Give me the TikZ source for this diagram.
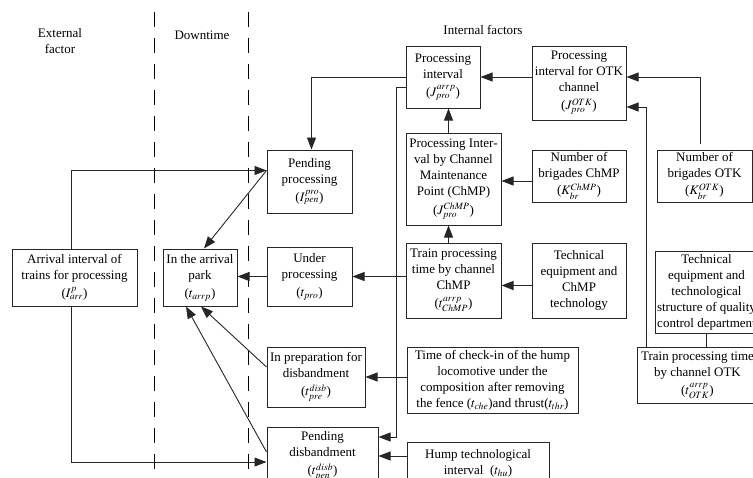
\documentclass[tikz,border=0pt]{standalone}
\usepackage{mathptmx}
\usepackage{fontspec}
\setmainfont{Liberation Serif}
\usetikzlibrary{arrows.meta}
\tikzset{
  factorbox/.style={draw=black!85,line width=1pt,align=center,inner sep=1pt,
    font=\fontsize{13}{16}\selectfont},
  flowarrow/.style={-{Triangle[length=12pt,width=9pt]},line width=0.9pt,draw=black!85},
  flowline/.style={line width=0.9pt,draw=black!85},
  zoneline/.style={line width=0.9pt,dash pattern=on 15pt off 11pt},
  zonelabel/.style={align=center,font=\fontsize{13}{16}\selectfont},
  every picture/.style={line join=miter}
}

\begin{document}
\begin{tikzpicture}[x=1pt,y=-1pt]
  \useasboundingbox (0,0) rectangle (753,477);
  % zones
  \draw[zoneline] (154,12)--(154,477);
  \draw[zoneline] (248,12)--(248,477);
  \node[zonelabel] (extlbl) at (60,41) {External\\factor};
  \node[zonelabel] (downlbl) at (202,35) {Downtime};
  \node[zonelabel] (intlbl) at (483,30) {Internal factors};
  % internal factors
  \node[factorbox,minimum width=74pt,minimum height=62pt] (pint) at (443,77)
    {Processing\\interval\\[2pt]($J^{arrp}_{pro}$)};
  \node[factorbox,minimum width=94pt,minimum height=74pt] (potk) at (579,83)
    {Processing\\interval for OTK\\channel\\[2pt]($J^{OTK}_{pro}$)};
  \node[factorbox,minimum width=95pt,minimum height=92pt] (pchmp) at (453.5,179)
    {Processing Inter-\\val by Channel\\Maintenance\\Point (ChMP)\\[3pt]($J^{ChMP}_{pro}$)};
  \node[factorbox,minimum width=94pt,minimum height=52pt] (nchmp) at (579,176)
    {Number of\\brigades ChMP\\[1pt]($K^{ChMP}_{br}$)};
  \node[factorbox,minimum width=95pt,minimum height=52pt] (notk) at (704.5,176)
    {Number of\\brigades OTK\\[1pt]($K^{OTK}_{br}$)};
  \node[factorbox,minimum width=95pt,minimum height=75pt] (tchmp) at (453.5,280.5)
    {Train processing\\time by channel\\ChMP\\[2pt]($t^{arrp}_{ChMP}$)};
  \node[factorbox,minimum width=94pt,minimum height=75pt] (techchmp) at (579,280.5)
    {Technical\\equipment and\\ChMP\\technology};
  \node[factorbox,minimum width=103pt,minimum height=82pt] (qcd) at (706.5,292)
    {Technical\\equipment and\\technological\\structure of quality\\control department};
  \node[factorbox,minimum width=121pt,minimum height=56pt] (totk) at (697.5,375)
    {Train processing time\\by channel OTK\\[2pt]($t^{arrp}_{OTK}$)};
  \node[factorbox,minimum width=171pt,minimum height=66pt] (check) at (492.5,380)
    {Time of check-in of the hump\\locomotive under the\\composition after removing\\the fence ($t_{che}$)and thrust($t_{thr}$)};
  \node[factorbox,minimum width=142pt,minimum height=42pt] (hump) at (478,463)
    {Hump technological\\interval \ ($t_{hu}$)};
  % downtime states
  \node[factorbox,minimum width=85pt,minimum height=63pt] (ppen) at (309.5,181.5)
    {Pending\\processing\\[2pt]($I^{pro}_{pen}$)};
  \node[factorbox,minimum width=85pt,minimum height=59pt] (under) at (309.5,276.5)
    {Under\\processing\\[2pt]($t_{pro}$)};
  \node[factorbox,minimum width=98pt,minimum height=60pt] (prep) at (316,377)
    {In preparation for\\disbandment\\[2pt]($t^{disb}_{pre}$)};
  \node[factorbox,minimum width=111pt,minimum height=58pt] (pdis) at (322.5,456)
    {Pending\\disbandment\\[2pt]($t^{disb}_{pen}$)};
  \node[factorbox,minimum width=74pt,minimum height=57pt] (park) at (200,277.5)
    {In the arrival\\park\\[2pt]($t_{arrp}$)};
  % external factor
  \node[factorbox,minimum width=125pt,minimum height=57pt] (arr) at (74.5,277.5)
    {Arrival interval of\\trains for processing\\[2pt]($I^{p}_{arr}$)};
  \coordinate (bus) at (396,437);
  % connectors
  \draw[flowarrow] ([yshift=6pt]notk.north -| 700,0) |- ([yshift=6pt]potk.east);
  \draw[flowarrow] ([xshift=10pt]totk.north west) |- ([yshift=-24pt]potk.east);
  \draw[flowline] (qcd.south) -- (qcd.south |- totk.north);
  \draw[flowarrow] (potk.west |- pint.east) -- (pint.east);
  \draw[flowarrow] ([xshift=-5pt]pchmp.north) -- ([xshift=-5pt]pchmp.north |- pint.south);
  \draw[flowarrow] ([xshift=-5pt]tchmp.north) -- ([xshift=-5pt]tchmp.north |- pchmp.south);
  \draw[flowarrow] ([yshift=-5pt]nchmp.west) -- ([yshift=-5pt]nchmp.west -| pchmp.east);
  \draw[flowarrow] ([yshift=-5pt]techchmp.west) -- ([yshift=-5pt]techchmp.west -| tchmp.east);
  \draw[flowarrow] (pint.west) -| ([xshift=2pt]ppen.north);
  \draw[flowarrow] ([yshift=-10pt]pint.west) -| (bus) -- (bus -| pdis.east);
  \draw[flowarrow] (under.east -| tchmp.west) -- (under.east);
  \draw[flowarrow] (under.west) -- (under.west -| park.east);
  \draw[flowarrow] (check.west |- prep.east) -- (prep.east);
  \draw[flowarrow] (pdis.east -| hump.west) -- (pdis.east);
  \draw[flowarrow] ([xshift=-3pt]arr.north) |- ([yshift=11pt]ppen.west);
  \draw[flowarrow] ([xshift=-3pt]arr.south) |- ([yshift=-6pt]pdis.west);
  \draw[flowarrow] ([yshift=11pt]ppen.west) -- ([xshift=4pt]park.north);
  \draw[flowarrow] ([yshift=10pt]prep.west) -- ([xshift=1pt]park.south);
  \draw[flowarrow] ([yshift=4pt]pdis.west) -- ([xshift=-14pt]park.south);
\end{tikzpicture}
\end{document}
